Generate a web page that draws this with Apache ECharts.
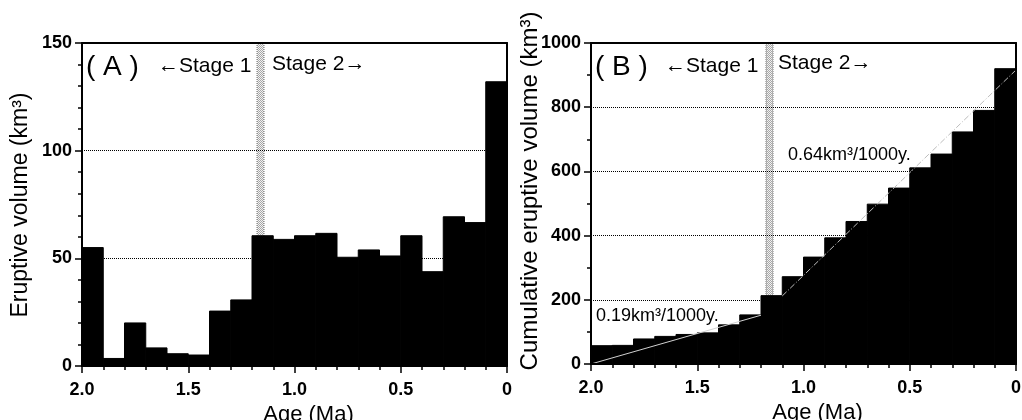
<!DOCTYPE html>
<html>
<head>
<meta charset="utf-8">
<script src="https://cdn.jsdelivr.net/npm/echarts@6/dist/echarts.min.js"></script>
<style>
  html, body { margin: 0; padding: 0; background: #fff; }
  #chart { width: 1022px; height: 420px; }
</style>
</head>
<body>
<div id="chart"></div>
<script>
// Age bins in Ma (0.1 Ma wide), from the oldest edge to the present
const binEdges = [2.0, 1.9, 1.8, 1.7, 1.6, 1.5, 1.4, 1.3, 1.2, 1.1, 1.0, 0.9, 0.8, 0.7, 0.6, 0.5, 0.4, 0.3, 0.2, 0.1, 0.0];

// Eruptive volume per bin (km3)
const eruptiveVolume = [55, 3.5, 20, 8.4, 5.7, 5.1, 25.5, 30.7, 60.5, 58.8, 60.5, 61.6, 50.5, 53.9, 51.1, 60.5, 43.8, 69.3, 66.6, 132];

// Cumulative eruptive volume at the young edge of each bin (km3)
const cumulativeVolume = [57, 58, 78, 86, 92, 97, 122, 153, 213, 272, 333, 393, 444, 498, 548, 611, 654, 723, 790, 920];

// Boundary between Stage 1 and Stage 2 (Ma)
const stageBoundary = 1.16;

// Linear eruption-rate fits [age, cumulative volume]
const stage1Rate = [[2.0, 0], [1.2, 152]];
const stage2Rate = [[1.1, 212], [0.0, 916]];

// Axis tick settings
const ageTicks = { min: 0, max: 2, interval: 0.5 };
const volumeTicks = { min: 0, max: 150, interval: 50 };
const cumulativeTicks = { min: 0, max: 1000, interval: 200 };

const FONT = '"Liberation Sans", Arial, Helvetica, sans-serif';

function toBins(values) {
  return values.map((v, i) => [binEdges[i], binEdges[i + 1], v]);
}

// stippled grey fill for the stage boundary band
const stipple = document.createElement('canvas');
stipple.width = 2; stipple.height = 2;
(function () {
  const c = stipple.getContext('2d');
  c.fillStyle = '#f2f2f2'; c.fillRect(0, 0, 2, 2);
  c.fillStyle = '#a8a8a8'; c.fillRect(0, 0, 1, 1); c.fillRect(1, 1, 1, 1);
})();

// one filled column per age bin; a thin same-colour stroke closes the seams
function renderBar(params, api) {
  const top = api.coord([api.value(0), api.value(2)]);
  const bot = api.coord([api.value(1), 0]);
  return {
    type: 'rect',
    shape: { x: Math.min(top[0], bot[0]), y: top[1], width: Math.abs(bot[0] - top[0]), height: bot[1] - top[1] },
    style: { fill: '#000', stroke: '#000', lineWidth: 1 }
  };
}

function makeBandRenderer(yMax) {
  return function (params, api) {
    const a = api.coord([api.value(0), yMax]);
    const b = api.coord([api.value(0), 0]);
    const w = 7;
    return {
      type: 'group',
      children: [
        { type: 'rect', shape: { x: a[0] - w / 2, y: a[1], width: w, height: b[1] - a[1] },
          style: { fill: { image: stipple, repeat: 'repeat' } } },
        { type: 'line', shape: { x1: a[0] - w / 2, y1: a[1], x2: a[0] - w / 2, y2: b[1] },
          style: { stroke: '#777', lineWidth: 1, lineDash: [1, 1] } },
        { type: 'line', shape: { x1: a[0] + w / 2, y1: a[1], x2: a[0] + w / 2, y2: b[1] },
          style: { stroke: '#777', lineWidth: 1, lineDash: [1, 1] } }
      ]
    };
  };
}

function ageAxis(gridIndex) {
  return {
    gridIndex, type: 'value', inverse: true,
    min: ageTicks.min, max: ageTicks.max, interval: ageTicks.interval,
    z: 10,
    axisLine: { show: true, onZero: false, lineStyle: { color: '#000', width: 2 } },
    axisTick: { show: true, length: 7, lineStyle: { color: '#000', width: 1.5 } },
    minorTick: { show: true, splitNumber: 5, length: 4, lineStyle: { color: '#000', width: 1.5 } },
    splitLine: { show: false },
    axisLabel: {
      color: '#000', fontFamily: FONT, fontSize: 18, fontWeight: 'bold', margin: 15,
      formatter: v => (v === 0 ? '0' : v.toFixed(1))
    },
    name: 'Age (Ma)', nameLocation: 'middle', nameGap: 26,
    nameTextStyle: { color: '#000', fontFamily: FONT, fontSize: 22, padding: [0, 0, 0, 28] }
  };
}

function frameX(gridIndex) {
  return {
    gridIndex, type: 'value', position: 'top', inverse: true, min: 0, max: 2, z: 10,
    axisLine: { show: true, onZero: false, lineStyle: { color: '#000', width: 2 } },
    axisTick: { show: false }, axisLabel: { show: false }, splitLine: { show: false }
  };
}

function frameY(gridIndex, max) {
  return {
    gridIndex, type: 'value', position: 'right', min: 0, max, z: 10,
    axisLine: { show: true, onZero: false, lineStyle: { color: '#000', width: 2 } },
    axisTick: { show: false }, axisLabel: { show: false }, splitLine: { show: false }
  };
}

function valueAxis(gridIndex, ticks, minorSplit) {
  return {
    gridIndex, type: 'value', min: ticks.min, max: ticks.max, interval: ticks.interval,
    z: 10,
    axisLine: { show: true, onZero: false, lineStyle: { color: '#000', width: 2 } },
    axisTick: { show: true, length: 7, lineStyle: { color: '#000', width: 1.5 } },
    minorTick: { show: true, splitNumber: minorSplit, length: 4, lineStyle: { color: '#000', width: 1.5 } },
    splitLine: { show: true, lineStyle: { color: '#000', width: 1, type: [1, 1] } },
    axisLabel: {
      color: '#000', fontFamily: FONT, fontSize: 18, fontWeight: 'bold', margin: 10,
      formatter: v => String(v)
    }
  };
}

function txt(x, y, text, size) {
  return {
    type: 'text', x, y, z: 100,
    style: { text, fontFamily: FONT, fontSize: size, fill: '#000', align: 'left', verticalAlign: 'middle' }
  };
}

function vtxt(x, y, text, size) {
  return {
    type: 'text', x, y, z: 100, rotation: Math.PI / 2,
    style: { text, fontFamily: FONT, fontSize: size, fill: '#000', align: 'center', verticalAlign: 'middle' }
  };
}

const chart = echarts.init(document.getElementById('chart'), null, { renderer: 'canvas' });

chart.setOption({
  backgroundColor: '#fff',
  animation: false,
  grid: [
    { left: 82, top: 43, width: 425, height: 323, containLabel: false, outerBoundsMode: 'none' },
    { left: 591, top: 43, width: 425, height: 321, containLabel: false, outerBoundsMode: 'none' }
  ],
  xAxis: [ageAxis(0), ageAxis(1), frameX(0), frameX(1)],
  yAxis: [
    valueAxis(0, volumeTicks, 5),
    valueAxis(1, cumulativeTicks, 2),
    frameY(0, volumeTicks.max),
    frameY(1, cumulativeTicks.max)
  ],
  series: [
    {
      type: 'custom', xAxisIndex: 0, yAxisIndex: 0, z: 1, silent: true,
      renderItem: makeBandRenderer(volumeTicks.max),
      data: [[stageBoundary]], encode: { x: 0 }
    },
    {
      type: 'custom', xAxisIndex: 1, yAxisIndex: 1, z: 1, silent: true,
      renderItem: makeBandRenderer(cumulativeTicks.max),
      data: [[stageBoundary]], encode: { x: 0 }
    },
    {
      name: 'Eruptive volume', type: 'custom', xAxisIndex: 0, yAxisIndex: 0, z: 3,
      renderItem: renderBar, data: toBins(eruptiveVolume), encode: { x: [0, 1], y: 2 }
    },
    {
      name: 'Cumulative eruptive volume', type: 'custom', xAxisIndex: 1, yAxisIndex: 1, z: 3,
      renderItem: renderBar, data: toBins(cumulativeVolume), encode: { x: [0, 1], y: 2 }
    },
    {
      name: 'Stage 1 rate', type: 'line', xAxisIndex: 1, yAxisIndex: 1, z: 5,
      data: stage1Rate, symbol: 'none', silent: true,
      lineStyle: { color: '#d0d0d0', width: 1 }
    },
    {
      name: 'Stage 2 rate', type: 'line', xAxisIndex: 1, yAxisIndex: 1, z: 5,
      data: stage2Rate, symbol: 'none', silent: true,
      lineStyle: { color: '#bdbdbd', width: 1, type: [6, 2, 1, 2] }
    }
  ],
  graphic: [
    vtxt(21, 205, 'Eruptive volume (km³)', 23),
    vtxt(530, 191, 'Cumulative eruptive volume (km³)', 24),
    txt(86, 67, '( A )', 28),
    txt(158, 66, '←Stage 1', 21),
    txt(272, 64, 'Stage 2→', 21),
    txt(595, 67, '( B )', 28),
    txt(665, 66, '←Stage 1', 21),
    txt(778, 63, 'Stage 2→', 21),
    txt(596, 316, '0.19km³/1000y.', 18),
    txt(788, 155, '0.64km³/1000y.', 18)
  ]
});
</script>
</body>
</html>
